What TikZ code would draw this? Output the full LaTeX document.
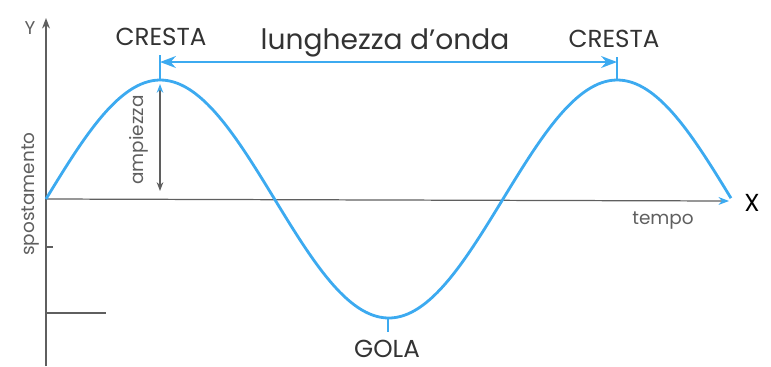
\documentclass[tikz,border=0pt]{standalone}
\usepackage{fontspec}
\setmainfont{Poppins}
\usetikzlibrary{arrows.meta}
\definecolor{wavecol}{RGB}{60,170,240}
\definecolor{axiscol}{RGB}{95,95,95}

\begin{document}
\begin{tikzpicture}[x=0.02cm, y=-0.02cm,
    wave/.style={wavecol, line width=1.6pt},
    marker/.style={wavecol, line width=0.9pt},
    axis/.style={axiscol, line width=0.7pt},
    biglbl/.style={font=\fontsize{14}{16}\selectfont, text=black!80},
    smalllbl/.style={font=\fontsize{10.5}{12}\selectfont, text=axiscol}]
        \useasboundingbox (0,0) rectangle (771,366);
        % axes
        \coordinate (o) at (46,199);
        \coordinate (ytop) at (46,18);
        \coordinate (ybot) at (46,366);
        \coordinate (xend) at (729,201);
        \draw[axis, -{Stealth[length=6pt]}] (ybot) -- (ytop);
        \draw[axis, -{Stealth[length=6pt, wavecol]}] (o) -- (xend);
        \coordinate (t1) at (46,247);
        \coordinate (t1e) at (53,247);
        \coordinate (t2) at (46,313);
        \coordinate (t2e) at (106,313);
        \draw[axis] (t1) -- (t1e);
        \draw[axis] (t2) -- (t2e);
        \node[smalllbl] (ylab) at (30,28) {Y};
        \node[font=\fontsize{14}{16}\selectfont] (xlab) at (752,203) {X};
        \node[smalllbl] (tempo) at (663,221) {tempo};
        \node[smalllbl, rotate=90] (spost) at (31,194) {spostamento};
        % wave
        \draw[wave, domain=46:731, samples=120, smooth] plot (\x, {199 - 119*sin((\x-46)/457*360)});
        % crests and trough
        \coordinate (c1) at (160,80);
        \coordinate (c1t) at (160,55);
        \coordinate (c2) at (617,80);
        \coordinate (c2t) at (617,57);
        \coordinate (g) at (388,318);
        \coordinate (gt) at (388,332);
        \draw[marker] (c1) -- (c1t);
        \draw[marker] (c2) -- (c2t);
        \draw[marker] (g) -- (gt);
        \coordinate (wl1) at (160,62);
        \coordinate (wl2) at (617,62);
        \draw[marker, line width=1.3pt, {Stealth[length=9pt]}-{Stealth[length=9pt]}] (wl1) -- (wl2);
        \node[biglbl] (cresta1) at (161,37) {CRESTA};
        \node[biglbl] (cresta2) at (614,39) {CRESTA};
        \node[biglbl] (gola) at (387,349) {GOLA};
        \node[font=\fontsize{16}{18}\selectfont, text=black!80, anchor=base] (lambda) at (385,49) {lunghezza d’onda};
        % amplitude
        \coordinate (a1) at (160,84);
        \coordinate (a2) at (160,191);
        \draw[axiscol, line width=1pt, {Stealth[length=5pt, wavecol]}-{Stealth[length=5pt]}] (a1) -- (a2);
        \node[smalllbl, rotate=90] (ampl) at (139,140) {ampiezza};
    \end{tikzpicture}
\end{document}
